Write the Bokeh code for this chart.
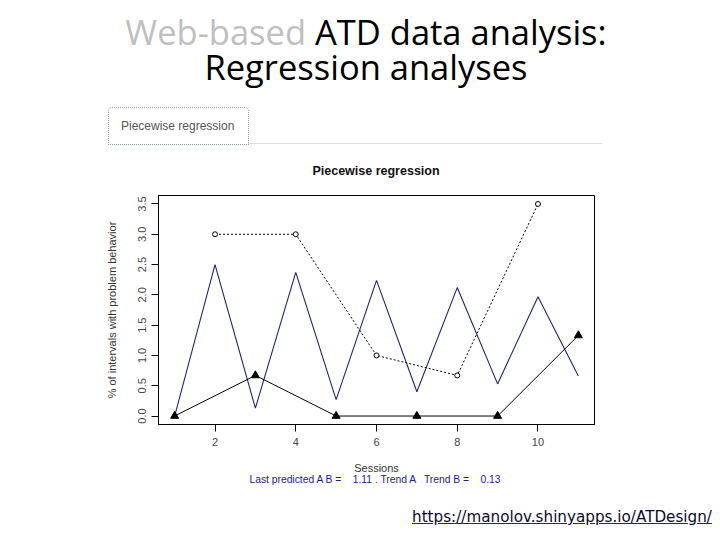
from bokeh.plotting import figure
from bokeh.models import Range1d, FixedTicker, PrintfTickFormatter, Div
from bokeh.layouts import column
from bokeh.embed import file_html
from bokeh.resources import INLINE

# ---- data ----
sessions_a = [1, 3, 5, 7, 9, 11]
values_a = [0.0, 0.67, 0.0, 0.0, 0.0, 1.33]
sessions_b = [2, 4, 6, 8, 10]
values_b = [3.0, 3.0, 1.0, 0.67, 3.5]
sessions_all = [1, 2, 3, 4, 5, 6, 7, 8, 9, 10, 11]
piecewise_fit = [0.0, 2.5, 0.13, 2.37, 0.27, 2.24, 0.40, 2.12, 0.53, 1.97, 0.66]
x_ticks = [2, 4, 6, 8, 10]
y_ticks = [0.0, 0.5, 1.0, 1.5, 2.0, 2.5, 3.0, 3.5]

title_grey = "Web-based"
title_black = "ATD data analysis:"
title_line2 = "Regression analyses"
tab_label = "Piecewise regression"
plot_title = "Piecewise regression"
y_label = "% of intervals with problem behavior"
x_label = "Sessions"
summary = "Last predicted A B =    1.11 . Trend A   Trend B =    0.13"
url = "https://manolov.shinyapps.io/ATDesign/"

W = 712
H_HEAD = 185
H_PLOT = 293
H_FOOT = 54

# ---------------- header (HTML text) ----------------
head_html = f"""
<div style="position:relative;width:{W}px;height:{H_HEAD}px;">
  <div style="position:absolute;left:0px;top:15px;width:732px;text-align:center;
       font-family:'Open Sans';font-size:34.5px;line-height:33px;white-space:nowrap;color:#000;"><span style="color:#bfbfbf;">{title_grey}</span> {title_black}</div>
  <div style="position:absolute;left:0px;top:49.5px;width:732px;text-align:center;
       font-family:'Open Sans';font-size:34.5px;line-height:33px;white-space:nowrap;color:#000;">{title_line2}</div>
  <div style="position:absolute;left:108px;top:107px;width:139px;height:36px;
       border:1px dotted #8fa0ad;border-radius:4px 4px 0 0;box-sizing:content-box;"></div>
  <div style="position:absolute;left:248px;top:143px;width:354px;height:1px;background:#dddddd;"></div>
  <div style="position:absolute;left:121px;top:118px;font-family:'Liberation Sans';
       font-size:12px;line-height:16px;color:#555555;white-space:nowrap;">{tab_label}</div>
  <div style="position:absolute;left:0px;top:163px;width:752px;text-align:center;
       font-family:'Liberation Sans';font-size:12.5px;font-weight:bold;line-height:16px;
       color:#111111;white-space:nowrap;">{plot_title}</div>
</div>
"""
head = Div(text=head_html, width=W, height=H_HEAD, margin=0,
           styles={"overflow": "visible"})

# ---------------- plot ----------------
p = figure(width=W, height=H_PLOT, output_backend="svg", toolbar_location=None,
           x_range=Range1d(0.6, 11.4), y_range=Range1d(-0.14, 3.64),
           min_border_left=158, min_border_right=W - 594,
           min_border_top=10, min_border_bottom=54)
p.grid.visible = False
p.outline_line_color = "black"
p.outline_line_width = 1
p.outline_line_alpha = 1.0

for ax in (p.xaxis[0], p.yaxis[0]):
    ax.axis_line_color = "black"
    ax.major_tick_line_color = "black"
    ax.major_tick_out = 7
    ax.major_tick_in = 0
    ax.minor_tick_line_color = None
    ax.major_label_text_font = "Liberation Sans"
    ax.major_label_text_font_size = "11px"
    ax.major_label_text_color = "#444444"
    ax.axis_label_text_font = "Liberation Sans"
    ax.axis_label_text_font_size = "11px"
    ax.axis_label_text_font_style = "normal"
    ax.axis_label_text_color = "#333333"
p.xaxis.ticker = FixedTicker(ticks=x_ticks)
p.yaxis.ticker = FixedTicker(ticks=y_ticks)
p.yaxis.formatter = PrintfTickFormatter(format="%.1f")
p.yaxis.major_label_orientation = "vertical"
p.xaxis.major_label_standoff = 6
p.yaxis.major_label_standoff = 5
p.yaxis.axis_label = y_label
p.yaxis.axis_label_standoff = 18
p.xaxis.axis_label = x_label
p.xaxis.axis_label_standoff = 13

p.line(sessions_all, piecewise_fit, line_color="#22227a", line_width=1.1)
p.line(sessions_b, values_b, line_color="black", line_width=1, line_dash="2 2")
p.scatter(sessions_b, values_b, marker="circle", size=5, fill_color="white",
          line_color="black", line_width=1)
p.line(sessions_a, values_a, line_color="black", line_width=1)
p.scatter(sessions_a, values_a, marker="triangle", size=8, fill_color="black",
          line_color="black")

# ---------------- footer (HTML text) ----------------
foot_html = f"""
<div style="position:relative;width:{W}px;height:{H_FOOT}px;">
  <div style="position:absolute;left:0px;top:-4px;width:750px;text-align:center;
       font-family:'Liberation Sans';font-size:10.3px;line-height:12px;color:#1a1aa6;
       white-space:pre;">{summary}</div>
  <div style="position:absolute;left:412px;top:30px;font-family:'DejaVu Sans';
       font-size:15.2px;line-height:18px;color:#0a0a30;white-space:nowrap;
       text-decoration:underline;text-decoration-color:#1f1fa8;">{url}</div>
</div>
"""
foot = Div(text=foot_html, width=W, height=H_FOOT, margin=0,
           styles={"overflow": "visible"})

page = column(head, p, foot, spacing=0)
open("out.html", "w").write(file_html(page, INLINE))
